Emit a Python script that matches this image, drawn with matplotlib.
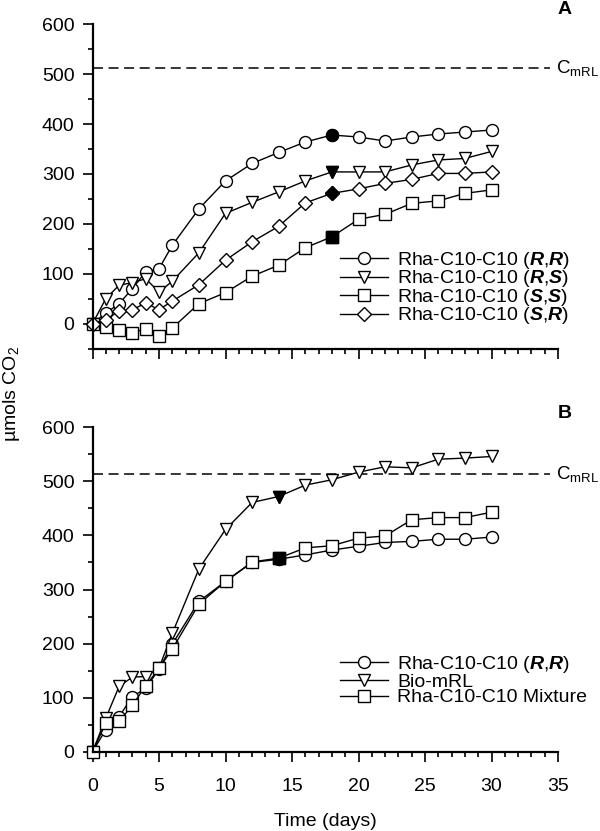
import matplotlib
matplotlib.use('Agg')
import matplotlib.pyplot as plt
from matplotlib.ticker import MultipleLocator

plt.rcParams['font.family'] = ['Liberation Sans', 'DejaVu Sans']
plt.rcParams['mathtext.fontset'] = 'custom'
plt.rcParams['mathtext.rm'] = 'Liberation Sans'
plt.rcParams['mathtext.it'] = 'Liberation Sans:italic'
plt.rcParams['mathtext.bf'] = 'Liberation Sans:bold'
plt.rcParams['mathtext.bfit'] = 'Liberation Sans:italic:bold'
plt.rcParams['mathtext.sf'] = 'Liberation Sans'
plt.rcParams['lines.scale_dashes'] = False

FS = 14

# ---------------- data ----------------
days = [0, 1, 2, 3, 4, 5, 6, 8, 10, 12, 14, 16, 18, 20, 22, 24, 26, 28, 30]

# Panel A
rr_A = [0, 21, 40, 70, 104, 110, 157, 230, 286, 321, 343, 364, 378, 374, 366, 374, 380, 384, 388]
rs_A = [0, 50, 77, 82, 90, 63, 85, 142, 221, 243, 264, 286, 304, 304, 304, 318, 328, 331, 345]
ss_A = [0, -7, -13, -19, -10, -24, -9, 40, 62, 95, 117, 152, 174, 209, 219, 241, 246, 261, 268]
sr_A = [0, 8, 25, 28, 41, 28, 45, 78, 127, 164, 195, 242, 261, 270, 281, 289, 301, 301, 304]
labels_A = [r'Rha-C10-C10 ($\mathbfit{R}$,$\mathbfit{R}$)',
            r'Rha-C10-C10 ($\mathbfit{R}$,$\mathbfit{S}$)',
            r'Rha-C10-C10 ($\mathbfit{S}$,$\mathbfit{S}$)',
            r'Rha-C10-C10 ($\mathbfit{S}$,$\mathbfit{R}$)']
filled_day_A = 18

# Panel B
rr_B = [0, 41, 65, 102, 117, 153, 199, 278, 315, 350, 356, 364, 373, 380, 387, 389, 393, 393, 397]
mrl_B = [0, 62, 121, 138, 139, 155, 219, 338, 411, 461, 472, 493, 503, 517, 527, 525, 541, 543, 546]
mix_B = [0, 53, 56, 86, 122, 154, 190, 273, 315, 351, 358, 377, 381, 395, 399, 429, 433, 433, 443]
labels_B = [r'Rha-C10-C10 ($\mathbfit{R}$,$\mathbfit{R}$)', 'Bio-mRL', 'Rha-C10-C10 Mixture']
filled_day_B = 14

C_mRL = 513

# ---------------- figure ----------------
fig = plt.figure(figsize=(6.0, 8.31), dpi=100)
axA = fig.add_axes([0.1542, 0.5806, 0.7758, 0.3902])
axB = fig.add_axes([0.1542, 0.0954, 0.7758, 0.3904])

mk = dict(o=8.6, v=9.0, s=8.0, D=6.8)


def draw(ax, series, markers, labels, fday):
    handles = []
    idx = days.index(fday)
    for ys, m, lab in zip(series, markers, labels):
        h, = ax.plot(days, ys, color='black', lw=1.0, marker=m, ms=mk[m],
                     mfc='white', mec='black', mew=1.0, label=lab, clip_on=False)
        ax.plot([days[idx]], [ys[idx]], linestyle='none', marker=m, ms=mk[m],
                mfc='black', mec='black', mew=1.0, clip_on=False, zorder=h.get_zorder())
        handles.append(h)
    return handles


def style(ax, ylo):
    ax.set_xlim(0, 35)
    ax.set_ylim(ylo, 600)
    for s in ('top', 'right'):
        ax.spines[s].set_visible(False)
    for s in ('left', 'bottom'):
        ax.spines[s].set_linewidth(1.6)
    ax.xaxis.set_major_locator(MultipleLocator(5))
    ax.xaxis.set_minor_locator(MultipleLocator(1))
    ax.yaxis.set_major_locator(MultipleLocator(100))
    ax.yaxis.set_minor_locator(MultipleLocator(50))
    ax.tick_params(which='major', direction='out', length=7, width=1.2, labelsize=FS)
    ax.tick_params(which='minor', direction='out', length=3.8, width=1.2)
    ax.tick_params(axis='y', which='major', pad=6)
    ax.tick_params(axis='x', which='major', pad=12)
    ax.plot([0, 34.4], [C_mRL, C_mRL], color='black', lw=1.1, dashes=(7.2, 4.0))
    ax.text(34.85, C_mRL, r'C$_{\mathrm{mRL}}$', fontsize=13.5, ha='left', va='center',
            clip_on=False)


style(axA, -50)
style(axB, 0)

hA = draw(axA, [rr_A, rs_A, ss_A, sr_A], ['o', 'v', 's', 'D'], labels_A, filled_day_A)
axA.set_xticklabels([])
hB = draw(axB, [rr_B, mrl_B, mix_B], ['o', 'v', 's'], labels_B, filled_day_B)

legkw = dict(frameon=False, fontsize=FS, handlelength=2.45, handletextpad=0.5,
             borderpad=0, borderaxespad=0, loc='upper left',
             bbox_transform=fig.transFigure)
axA.legend(handles=hA, bbox_to_anchor=(340 / 600, 1 - 250 / 831), labelspacing=-0.13, **legkw)
axB.legend(handles=hB, bbox_to_anchor=(340 / 600, 1 - 654 / 831), labelspacing=-0.1, **legkw)

axB.set_xlabel('Time (days)', fontsize=FS, labelpad=13)
fig.text(12 / 600, 1 - 442 / 831, 'µmols CO$_2$', fontsize=FS, rotation=90,
         ha='center', va='bottom')
fig.text(565 / 600, 1 - 10 / 831, 'A', fontsize=FS, fontweight='bold', ha='center', va='center')
fig.text(565 / 600, 1 - 413 / 831, 'B', fontsize=FS, fontweight='bold', ha='center', va='center')

fig.savefig('out.png', dpi=100)
